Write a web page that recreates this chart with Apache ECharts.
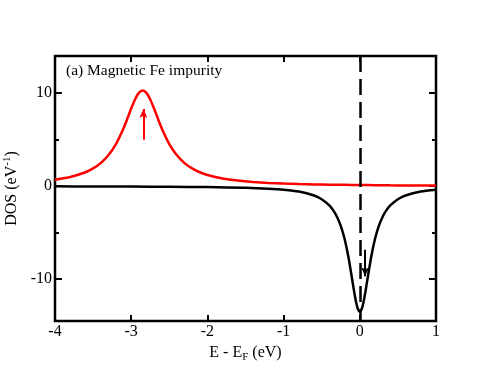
<!DOCTYPE html>
<html>
<head>
<meta charset="utf-8">
<script src="https://cdn.jsdelivr.net/npm/echarts@6/dist/echarts.min.js"></script>
<style>
  html, body { margin: 0; padding: 0; background: #fff; }
  #chart { width: 491px; height: 379px; }
</style>
</head>
<body>
<div id="chart"></div>
<script>
// energies (eV) and DOS values
const xUp = [-4.0, -3.8, -3.6, -3.5, -3.4, -3.3, -3.2, -3.1, -3.05, -3.0, -2.95, -2.9, -2.85,
  -2.8, -2.75, -2.7, -2.65, -2.6, -2.5, -2.4, -2.3, -2.2, -2.1, -2.0, -1.8, -1.6, -1.4, -1.2,
  -1.0, -0.8, -0.6, -0.4, -0.2, 0.0, 0.2, 0.4, 0.6, 0.8, 1.0];
const dosUp = [0.70, 0.99, 1.50, 1.91, 2.48, 3.32, 4.53, 6.24, 7.27, 8.35, 9.33, 10.04, 10.3,
  10.04, 9.33, 8.35, 7.27, 6.24, 4.53, 3.32, 2.48, 1.91, 1.50, 1.21, 0.83, 0.60, 0.45, 0.35,
  0.28, 0.23, 0.19, 0.16, 0.14, 0.12, 0.11, 0.09, 0.08, 0.07, 0.07];

const xDown = [-4.0, -3.5, -3.0, -2.5, -2.0, -1.5, -1.2, -1.0, -0.8, -0.6, -0.5, -0.4, -0.35,
  -0.3, -0.25, -0.2, -0.15, -0.1, -0.075, -0.05, -0.025, 0.0, 0.025, 0.05, 0.075, 0.1, 0.15,
  0.2, 0.25, 0.3, 0.35, 0.4, 0.5, 0.6, 0.8, 1.0];
const dosDown = [-0.02, -0.03, -0.04, -0.06, -0.10, -0.17, -0.27, -0.38, -0.58, -1.00, -1.40,
  -2.07, -2.58, -3.28, -4.27, -5.66, -7.59, -10.03, -11.30, -12.42, -13.21, -13.5, -13.21,
  -12.42, -11.30, -10.03, -7.59, -5.66, -4.27, -3.28, -2.58, -2.07, -1.40, -1.00, -0.58, -0.38];

// spin arrows [start, end]
const arrowUp = [[-2.84, 5.0], [-2.84, 8.3]];
const arrowDown = [[0.07, -6.85], [0.07, -9.7]];

const fermiLevel = 0;
const xTicks = [-4, -3, -2, -1, 0, 1];
const yMajorTicks = [-10, 0, 10];
const yMinorTicks = [-5, 5];

const upData = xUp.map((x, i) => [x, dosUp[i]]);
const downData = xDown.map((x, i) => [x, dosDown[i]]);

const font = "Liberation Serif";
const xRange = { min: -4, max: 1, interval: 1 };
const yRange = { min: -14.5, max: 14 };

const chart = echarts.init(document.getElementById("chart"));

function yAxisCfg(pos, ticks, len, labels) {
  return {
    type: "value",
    position: pos,
    min: yRange.min,
    max: yRange.max,
    axisLine: { show: false, onZero: false },
    splitLine: { show: false },
    axisTick: { show: true, inside: true, length: len, customValues: ticks,
      lineStyle: { color: "#000", width: 2 } },
    axisLabel: labels
      ? { show: true, customValues: ticks, margin: 3, color: "#000", fontFamily: font, fontSize: 16 }
      : { show: false }
  };
}

const option = {
  animation: false,
  backgroundColor: "#fff",
  grid: {
    left: 55, right: 55, top: 56, bottom: 58,
    outerBoundsMode: "none",
    containLabel: false,
    show: true, borderColor: "#000", borderWidth: 2.5, backgroundColor: "transparent"
  },
  graphic: [{
    type: "text",
    left: 66, top: 63,
    style: { text: "(a) Magnetic Fe impurity", fill: "#000", font: "15.5px " + font }
  }],
  xAxis: [
    {
      type: "value", position: "bottom", ...xRange,
      name: "E - E{sub|F} (eV)",
      nameLocation: "middle",
      nameGap: 18,
      nameTextStyle: {
        color: "#000", fontFamily: font, fontSize: 16,
        rich: { sub: { fontFamily: font, fontSize: 11, color: "#000", padding: [9, 0, 0, 0] } }
      },
      axisLine: { show: false, onZero: false },
      splitLine: { show: false },
      axisTick: { inside: true, length: 6, lineStyle: { color: "#000", width: 2 } },
      axisLabel: { margin: 3, color: "#000", fontFamily: font, fontSize: 16,
        customValues: xTicks }
    },
    {
      type: "value", position: "top", ...xRange,
      axisLine: { show: false, onZero: false },
      splitLine: { show: false },
      axisTick: { inside: true, length: 6, lineStyle: { color: "#000", width: 2 } },
      axisLabel: { show: false }
    }
  ],
  yAxis: [
    Object.assign(yAxisCfg("left", yMajorTicks, 7, true), {
      name: "DOS (eV{sup|-1})",
      nameLocation: "middle",
      nameGap: 27,
      nameTextStyle: {
        color: "#000", fontFamily: font, fontSize: 16,
        rich: { sup: { fontFamily: font, fontSize: 11, color: "#000", padding: [0, 0, 9, 0] } }
      }
    }),
    yAxisCfg("left", yMinorTicks, 4, false),
    yAxisCfg("right", yMajorTicks, 7, false),
    yAxisCfg("right", yMinorTicks, 4, false)
  ],
  series: [
    {
      type: "line",
      data: downData,
      smooth: 0.2,
      symbol: "none",
      lineStyle: { color: "#000", width: 2.5 },
      markLine: {
        silent: true,
        animation: false,
        label: { show: false },
        data: [
          // Fermi level, drawn from the top down so the dashes start at the frame
          [{ coord: [fermiLevel, yRange.max], symbol: "none" },
           { coord: [fermiLevel, yRange.min], symbol: "none" }],
          [{ coord: arrowDown[0], symbol: "none",
             lineStyle: { type: "solid", width: 2, color: "#000" } },
           { coord: arrowDown[1], symbol: "arrow", symbolSize: [6, 9] }]
        ],
        lineStyle: { color: "#000", width: 2.5, type: [16, 7] }
      }
    },
    {
      type: "line",
      data: upData,
      smooth: 0.2,
      symbol: "none",
      lineStyle: { color: "#ff0000", width: 2.5 },
      markLine: {
        silent: true,
        animation: false,
        label: { show: false },
        data: [
          [{ coord: arrowUp[0], symbol: "none" },
           { coord: arrowUp[1], symbol: "arrow", symbolSize: [6, 9] }]
        ],
        lineStyle: { color: "#ff0000", width: 2, type: "solid" }
      }
    }
  ]
};

chart.setOption(option);
</script>
</body>
</html>
